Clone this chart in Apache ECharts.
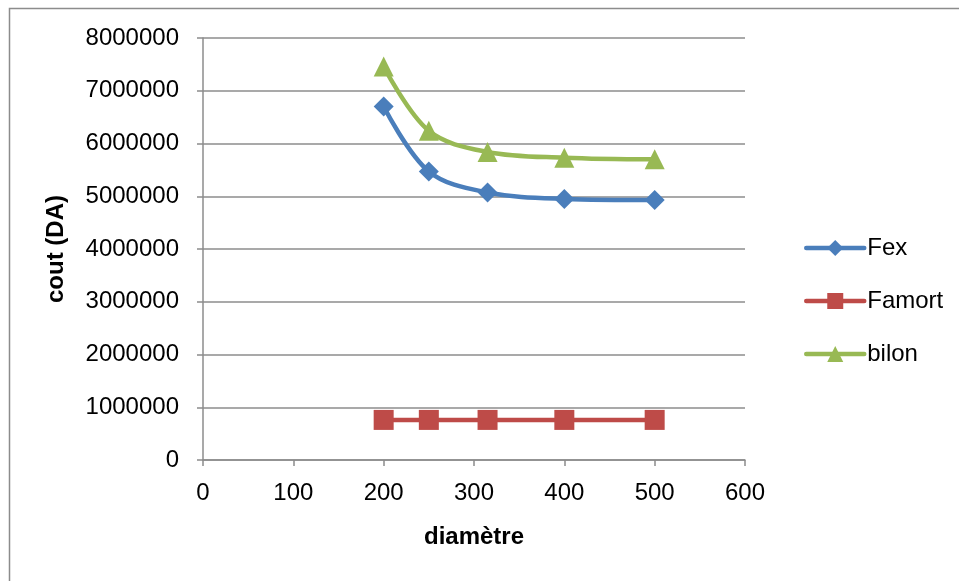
<!DOCTYPE html>
<html>
<head>
<meta charset="utf-8">
<script src="https://cdn.jsdelivr.net/npm/echarts@6/dist/echarts.min.js"></script>
<style>
  html, body { margin: 0; padding: 0; background: #fff; }
  #main { width: 959px; height: 581px; }
</style>
</head>
<body>
<div id="main"></div>
<script>
// diamètre (x values)
var diametres = [200, 250, 315, 400, 500];
// costs
var fex = [6700000, 5470000, 5070000, 4950000, 4930000];
var famort = [760000, 760000, 760000, 760000, 760000];
var bilon = [7460000, 6240000, 5840000, 5730000, 5700000];

function pairs(vals) {
  return diametres.map(function (d, i) { return [d, vals[i]]; });
}

var font = "'Liberation Sans', Arial, sans-serif";
var chart = echarts.init(document.getElementById('main'));

var option = {
  animation: false,
  backgroundColor: '#fff',
  textStyle: { fontFamily: font },
  graphic: [
    {
      type: 'rect',
      shape: { x: 9.5, y: 8.5, width: 1000, height: 1000 },
      style: { fill: 'none', stroke: '#8c8c8c', lineWidth: 1.5 }
    }
  ],
  grid: { left: 203, right: 214, top: 38, bottom: 121 },
  legend: {
    orient: 'vertical',
    left: 799,
    top: 231,
    itemWidth: 58,
    itemHeight: 20,
    itemGap: 29,
    data: ['Fex', 'Famort', 'bilon'],
    lineStyle: { width: 4.5, cap: 'round' },
    textStyle: { fontSize: 24, color: '#000', fontFamily: font, padding: [0, 0, 0, -2] }
  },
  xAxis: {
    type: 'value',
    min: 0,
    max: 600,
    interval: 100,
    name: 'diamètre',
    nameLocation: 'middle',
    nameGap: 65,
    nameTextStyle: { fontSize: 24, fontWeight: 'bold', color: '#000', fontFamily: font },
    axisLine: { show: true, onZero: false, lineStyle: { color: '#8c8c8c', width: 1.5 } },
    axisTick: { show: true, length: 6, lineStyle: { color: '#8c8c8c', width: 1.5 } },
    axisLabel: { fontSize: 24, color: '#000', margin: 21, fontFamily: font },
    splitLine: { show: false }
  },
  yAxis: {
    type: 'value',
    min: 0,
    max: 8000000,
    interval: 1000000,
    name: 'cout (DA)',
    nameLocation: 'middle',
    nameGap: 135,
    nameTextStyle: { fontSize: 24, fontWeight: 'bold', color: '#000', fontFamily: font },
    axisLine: { show: true, lineStyle: { color: '#8c8c8c', width: 1.5 } },
    axisTick: { show: true, inside: false, length: 6, lineStyle: { color: '#8c8c8c', width: 1.5 } },
    axisLabel: {
      fontSize: 24, color: '#000', margin: 24, fontFamily: font,
      formatter: function (v) { return String(v); }
    },
    splitLine: { show: true, lineStyle: { color: '#8c8c8c', width: 1.5 } }
  },
  series: [
    {
      name: 'Fex',
      type: 'line',
      smooth: 0.35,
      data: pairs(fex),
      symbol: 'diamond',
      symbolSize: 20,
      lineStyle: { color: '#4a7ebb', width: 4.5 },
      itemStyle: { color: '#4a7ebb' }
    },
    {
      name: 'Famort',
      type: 'line',
      data: pairs(famort),
      symbol: 'rect',
      symbolSize: 20,
      lineStyle: { color: '#be4b48', width: 4.5 },
      itemStyle: { color: '#be4b48' }
    },
    {
      name: 'bilon',
      type: 'line',
      smooth: 0.35,
      data: pairs(bilon),
      symbol: 'triangle',
      symbolSize: 20,
      lineStyle: { color: '#98b954', width: 4.5 },
      itemStyle: { color: '#98b954' }
    }
  ]
};

chart.setOption(option);
</script>
</body>
</html>
